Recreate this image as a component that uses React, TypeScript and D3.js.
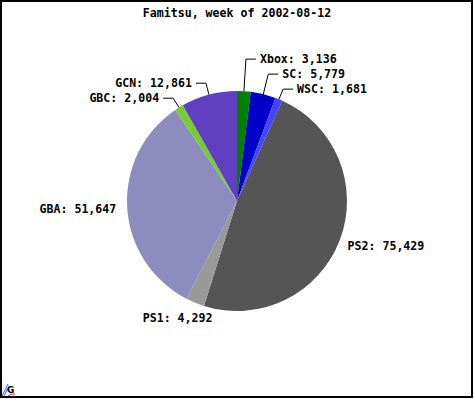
import React from "react";
import * as d3 from "d3";

const categories = ["Xbox", "SC", "WSC", "PS2", "PS1", "GBA", "GBC", "GCN"];
const values = [3136, 5779, 1681, 75429, 4292, 51647, 2004, 12861];
const colors = ["#008000", "#0000C8", "#4444FF", "#555555", "#999999", "#8C8CBF", "#77CC33", "#6040C0"];
const title = "Famitsu, week of 2002-08-12";

const W = 474;
const H = 399;
const cx = 237;
const cy = 201;
const R = 110;
const labelR = 121;
const charW = 6.98;
const rowGap = 15;
const FONT = "'DejaVu Sans Mono', monospace";

export default function App() {
  const fmt = d3.format(",");
  const pie = d3.pie<number>().sort(null).value((d) => d)(values);
  const arc = d3.arc<d3.PieArcDatum<number>>().innerRadius(0).outerRadius(R);

  type Lab = {
    i: number;
    text: string;
    m: number;
    guided: boolean;
    natY: number;
    y: number;
  };
  const labs: Lab[] = pie.map((p, i) => {
    let m = (p.startAngle + p.endAngle) / 2;
    let mn = m > Math.PI ? m - 2 * Math.PI : m;
    const guided = Math.abs(mn) < Math.PI / 4;
    const natY = cy - labelR * Math.cos(m);
    return { i, text: `${categories[i]}: ${fmt(values[i])}`, m: mn, guided, natY, y: natY };
  });
  // de-overlap guided labels on each side (push upward)
  [1, -1].forEach((side) => {
    const g = labs
      .filter((l) => l.guided && Math.sign(l.m) === side)
      .sort((a, b) => b.natY - a.natY);
    let prev = Infinity;
    g.forEach((l) => {
      l.y = Math.min(l.natY, prev - rowGap);
      prev = l.y;
    });
  });

  return (
    <svg
      width={W}
      height={H}
      style={{ position: "absolute", left: 0, top: 0, background: "#fff" }}
      fontFamily={FONT}
      fontWeight="bold"
      fontSize={11.6}
    >
      <rect x={0} y={0} width={W} height={H} fill="#fff" />
      <text x={cx} y={13} textAnchor="middle" dominantBaseline="central" fill="#000">
        {title}
      </text>
      <g transform={`translate(${cx},${cy})`}>
        {pie.map((p, i) => (
          <path key={i} d={arc(p) || ""} fill={colors[i]} />
        ))}
      </g>
      {labs.map((l) => {
        const sx = Math.sin(l.m);
        const sy = -Math.cos(l.m);
        const w = l.text.length * charW;
        if (l.guided) {
          const px = cx + R * sx;
          const py = cy + R * sy;
          const t = (cy - l.y) / Math.cos(l.m);
          const kx = cx + t * sx;
          const dir = l.m > 0 ? 1 : -1;
          const hx = kx + dir * 10;
          return (
            <g key={l.i}>
              <polyline
                points={`${px},${py} ${kx},${l.y} ${hx},${l.y}`}
                fill="none"
                stroke="#000"
                strokeWidth={1}
              />
              <text
                x={hx + dir * 4}
                y={l.y}
                textAnchor={dir > 0 ? "start" : "end"}
                dominantBaseline="central"
                fill="#000"
              >
                {l.text}
              </text>
            </g>
          );
        }
        const ax = cx + labelR * sx;
        const ay = cy + labelR * sy;
        const left = ax - (w * (1 - sx)) / 2;
        const ty = ay + 6 * sy;
        return (
          <text key={l.i} x={left} y={ty} textAnchor="start" dominantBaseline="central" fill="#000">
            {l.text}
          </text>
        );
      })}
      {/* small logo */}
      <g>
        <line x1={2} y1={396} x2={8} y2={384} stroke="#3355ff" strokeWidth={1} />
        <line x1={4} y1={396} x2={9} y2={386} stroke="#3355ff" strokeWidth={1} />
        <text x={7} y={393} fontSize={9} fontFamily="'DejaVu Sans', sans-serif" fontWeight="bold" fill="#000">
          G
        </text>
        <path d="M8,396 Q12,393 15,394" fill="none" stroke="#dd2222" strokeWidth={1} />
      </g>
      <rect x={1} y={1} width={471} height={396} fill="none" stroke="#000" strokeWidth={2} />
    </svg>
  );
}
